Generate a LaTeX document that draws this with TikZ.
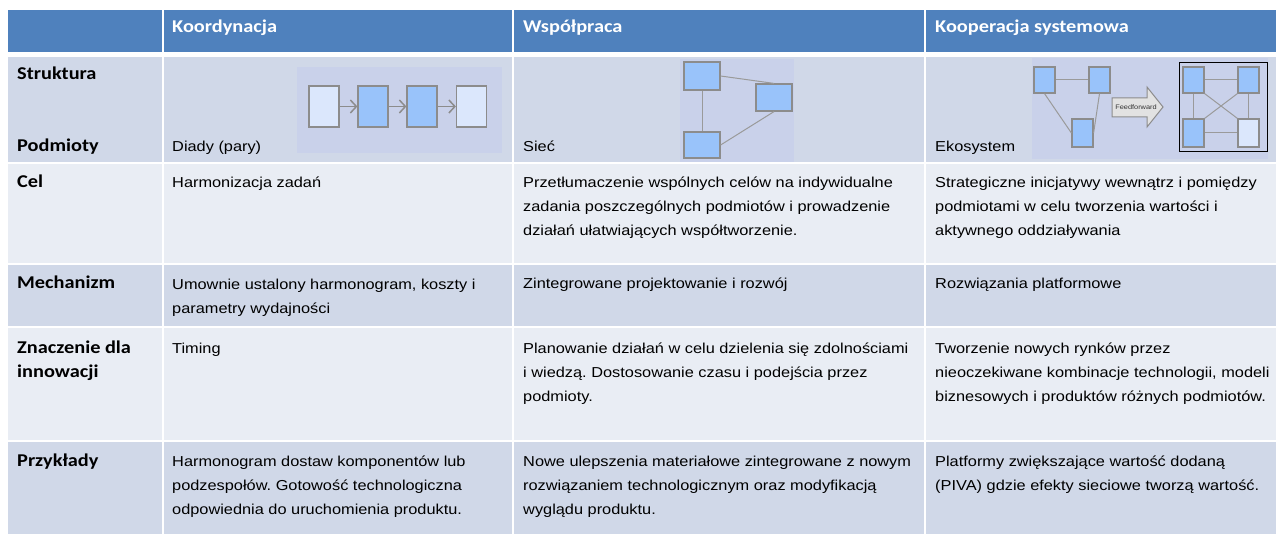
\documentclass[tikz,border=0pt]{standalone}
\usepackage{fontspec}
\setmainfont{Liberation Sans}[FakeStretch=1.135]
\newfontfamily\labelfam{Carlito}[FakeStretch=1.13]
\usetikzlibrary{arrows.meta,positioning}
\frenchspacing
\definecolor{headblue}{HTML}{4F81BD}
\definecolor{rowdark}{HTML}{D0D8E8}
\definecolor{rowlight}{HTML}{E9EDF4}
\definecolor{picbg}{HTML}{C9D1EA}
\definecolor{boxdark}{HTML}{99C3FA}
\definecolor{boxlight}{HTML}{DBE7FC}
\definecolor{boxline}{HTML}{8C8C8C}
\definecolor{linkgray}{HTML}{9A9A9A}
\definecolor{ffgray}{HTML}{E2E2E2}
\tikzset{
  headtext/.style={anchor=base west, inner sep=0pt, text=white, font=\labelfam\bfseries\fontsize{18}{22}\selectfont},
  rowlabel/.style={anchor=base west, inner sep=0pt, align=left, font=\labelfam\bfseries\fontsize{18}{24}\selectfont},
  celltext/.style={anchor=base west, inner sep=0pt, align=left, font=\fontsize{14.4}{24}\selectfont},
  darkbox/.style={draw=boxline, line width=1.2pt, fill=boxdark, inner sep=0pt},
  lightbox/.style={draw=boxline, line width=1.2pt, fill=boxlight, inner sep=0pt},
  link/.style={draw=linkgray, line width=1pt},
  sepline/.style={white, line width=2pt}
}
\begin{document}
\begin{tikzpicture}[x=1pt,y=-1pt]
\useasboundingbox (0,0) rectangle (1276,534);
\fill[headblue] (8,10) rectangle (1276,52);
\foreach \ya/\yb/\c in {57/163/rowdark, 163/264/rowlight, 264/327/rowdark, 327/441/rowlight, 441/534/rowdark}
  \fill[\c] (8,\ya) rectangle (1276,\yb);
\foreach \y in {163,264,327,441}
  \draw[sepline] (8,\y) -- (1276,\y);
\foreach \x in {162.5,512.5,925}
  \draw[sepline] (\x,10) -- (\x,534);

\node[headtext] (h1) at (172,33) {Koordynacja};
\node[headtext] (h2) at (523,33) {Współpraca};
\node[headtext] (h3) at (935,33) {Kooperacja systemowa};

% base anchor sits on the last line of a multi-line node
\node[rowlabel] (lstr) at (17,80) {Struktura};
\node[rowlabel] (lpod) at (17,152) {Podmioty};
\node[rowlabel] (lcel) at (17,188) {Cel};
\node[rowlabel] (lmech) at (17,289) {Mechanizm};
\node[rowlabel] (lzn) at (17,377) {Znaczenie dla\\innowacji};
\node[rowlabel] (lprz) at (17,466) {Przykłady};

\node[celltext] (p1) at (172,152) {Diady (pary)};
\node[celltext] (p2) at (523,152) {Sieć};
\node[celltext] (p3) at (935,152) {Ekosystem};

\node[celltext] (c1) at (172,188) {Harmonizacja zadań};
\node[celltext] (c2) at (523,236) {Przetłumaczenie wspólnych celów na indywidualne\\zadania poszczególnych podmiotów i prowadzenie\\działań ułatwiających współtworzenie.};
\node[celltext] (c3) at (935,236) {Strategiczne inicjatywy wewnątrz i pomiędzy\\podmiotami w celu tworzenia wartości i\\aktywnego oddziaływania};

\node[celltext] (m1) at (172,313) {Umownie ustalony harmonogram, koszty i\\parametry wydajności};
\node[celltext] (m2) at (523,289) {Zintegrowane projektowanie i rozwój};
\node[celltext] (m3) at (935,289) {Rozwiązania platformowe};

\node[celltext] (z1) at (172,353) {Timing};
\node[celltext] (z2) at (523,401) {Planowanie działań w celu dzielenia się zdolnościami\\i wiedzą. Dostosowanie czasu i podejścia przez\\podmioty.};
\node[celltext] (z3) at (935,401) {Tworzenie nowych rynków przez\\nieoczekiwane kombinacje technologii, modeli\\biznesowych i produktów różnych podmiotów.};

\node[celltext] (e1) at (172,514) {Harmonogram dostaw komponentów lub\\podzespołów. Gotowość technologiczna\\odpowiednia do uruchomienia produktu.};
\node[celltext] (e2) at (523,514) {Nowe ulepszenia materiałowe zintegrowane z nowym\\rozwiązaniem technologicznym oraz modyfikacją\\wyglądu produktu.};
\node[celltext] (e3) at (935,490) {Platformy zwiększające wartość dodaną\\(PIVA) gdzie efekty sieciowe tworzą wartość.};

\fill[picbg] (297,67) rectangle (502,153);
\node[lightbox, minimum width=30pt, minimum height=41pt] (k1) at (324,106.5) {};
\node[darkbox, minimum width=30pt, minimum height=41pt] (k2) at (373,106.5) {};
\node[darkbox, minimum width=30pt, minimum height=41pt] (k3) at (422,106.5) {};
\node[lightbox, minimum width=30pt, minimum height=41pt] (k4) at (471.5,106.5) {};
\foreach \a/\b in {k1/k2,k2/k3,k3/k4}
  \draw[boxline, line width=1.5pt, -{Straight Barb[length=6pt,width=13pt]}] (\a.east) -- (\b.west);

\fill[picbg] (680,59) rectangle (794,162);
\node[darkbox, minimum width=36pt, minimum height=28pt] (w1) at (702,76) {};
\node[darkbox, minimum width=36pt, minimum height=27pt] (w2) at (774,97.5) {};
\node[darkbox, minimum width=36pt, minimum height=26pt] (w3) at (702,145) {};
\draw[link] (w1.east) -- (w2.north);
\draw[link] (w1.south) -- (w3.north);
\draw[link] (w3.east) -- (w2.south);

\fill[picbg] (1032,58) rectangle (1268,159);
\node[darkbox, minimum width=21pt, minimum height=26pt] (s1) at (1044.5,80) {};
\node[darkbox, minimum width=21pt, minimum height=26pt] (s2) at (1099.5,80) {};
\node[darkbox, minimum width=21pt, minimum height=28pt] (s3) at (1082.5,133) {};
\draw[link] (s1.east) -- (s2.west);
\draw[link] (s1.south) -- (s3.west);
\draw[link] (s2.south) -- (s3.east);

\draw[boxline, line width=1pt, fill=ffgray] (1112,98) -- (1147,98) -- (1147,87) -- (1163,107) -- (1147,127) -- (1147,117) -- (1112,117) -- cycle;
\node[inner sep=0pt, font=\fontsize{6.5}{7}\selectfont, text=black!80] (ff) at (1136,107.5) {Feedforward};

\draw[black, line width=1pt] (1179,63) rectangle (1267,152);
\node[darkbox, minimum width=21pt, minimum height=26pt] (t1) at (1193.5,80) {};
\node[darkbox, minimum width=21pt, minimum height=26pt] (t2) at (1248.5,80) {};
\node[darkbox, minimum width=21pt, minimum height=28pt] (t3) at (1193.5,133) {};
\node[lightbox, minimum width=21pt, minimum height=28pt] (t4) at (1248.5,133) {};
\draw[link] (t1.east) -- (t2.west);
\draw[link] (t3.east) -- (t4.west);
\draw[link] (t1.south) -- (t3.north);
\draw[link] (t2.south) -- (t4.north);
\draw[link] (t1.south east) -- (t4.north west);
\draw[link] (t2.south west) -- (t3.north east);
\end{tikzpicture}
\end{document}
